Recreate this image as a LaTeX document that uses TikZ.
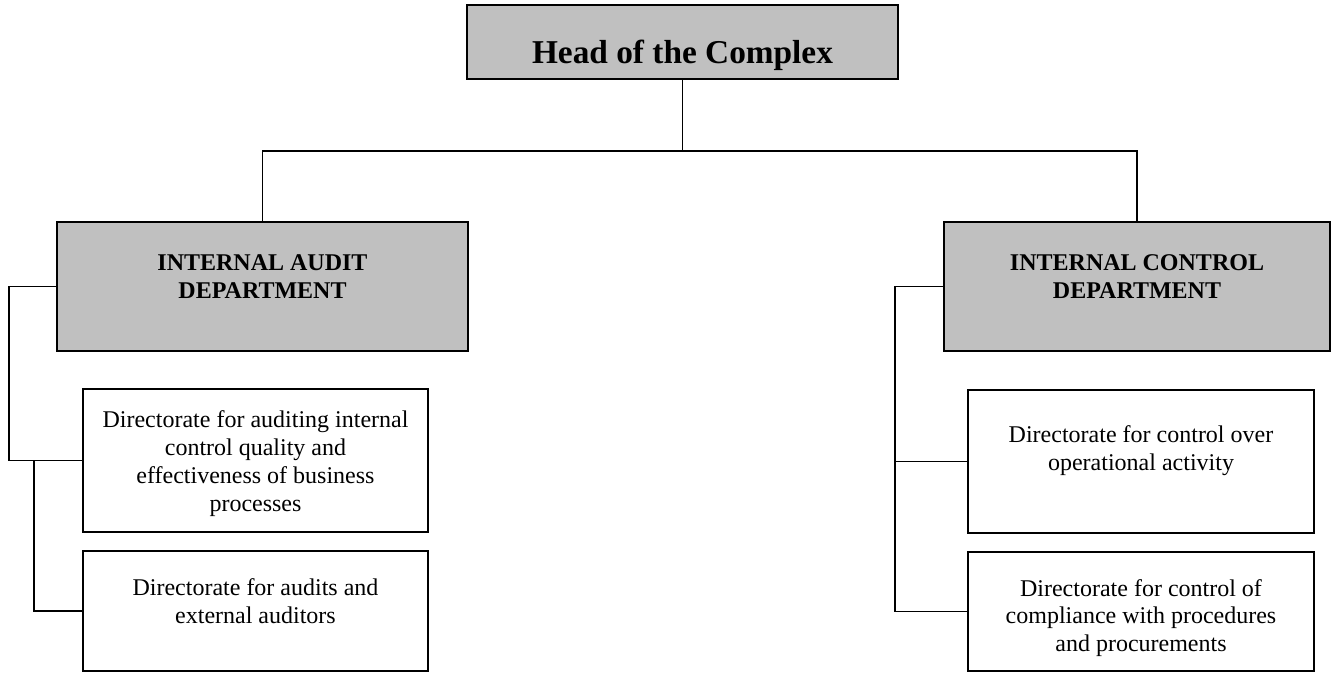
\documentclass[tikz,border=0pt]{standalone}
\usepackage{fontspec}
\setmainfont{Liberation Serif}
\usepackage{tikz}
\definecolor{boxgray}{HTML}{C0C0C0}

\begin{document}
\begin{tikzpicture}[x=0.75pt, y=-0.75pt, line width=1.4pt,
  orgbox/.style = {shape=rectangle, draw, inner sep=0pt},
  graybox/.style = {orgbox, fill=boxgray},
  headtext/.style = {anchor=base, inner sep=0pt, font=\fontsize{25}{30}\selectfont\bfseries},
  depttext/.style = {anchor=base, inner sep=0pt, align=center, font=\fontsize{18}{21}\selectfont\bfseries},
  subtext/.style = {anchor=base, inner sep=0pt, align=center, font=\fontsize{18}{20.8}\selectfont}]
  \useasboundingbox (0,0) rectangle (1335,672);

  % boxes
  \node[graybox, minimum width=323.25pt, minimum height=55.5pt] (head) at (682.5,42) {};
  \node[graybox, minimum width=308.25pt, minimum height=96.75pt] (audit) at (262.5,286.5) {};
  \node[graybox, minimum width=289.5pt, minimum height=96.75pt] (control) at (1137,286.5) {};
  \node[orgbox, minimum width=258.75pt, minimum height=107.25pt] (audit1) at (255.5,460.5) {};
  \node[orgbox, minimum width=258.75pt, minimum height=90pt] (audit2) at (255.5,611) {};
  \node[orgbox, minimum width=259.5pt, minimum height=107.25pt] (control1) at (1141,461.5) {};
  \node[orgbox, minimum width=259.5pt, minimum height=89.25pt] (control2) at (1141,611.5) {};

  % texts (placed at the baseline of their last line)
  \node[headtext] (head-text) at (682.5,63) {Head of the Complex};
  \node[depttext] (audit-text) at (262.5,298) {INTERNAL AUDIT\\DEPARTMENT};
  \node[depttext] (control-text) at (1137,298) {INTERNAL CONTROL\\DEPARTMENT};
  \node[subtext] (audit1-text) at (255.5,511) {Directorate for auditing internal\\control quality and\\effectiveness of business\\processes};
  \node[subtext] (audit2-text) at (255.5,623.7) {Directorate for audits and\\external auditors};
  \node[subtext] (control1-text) at (1141,470.7) {Directorate for control over\\operational activity};
  \node[subtext] (control2-text) at (1141,651.5) {Directorate for control of\\compliance with procedures\\and procurements};

  % connectors
  \coordinate (bus) at (682.5,150.7);
  \draw (head.south) -- (bus);
  \draw (audit.north) |- (bus) -| (control.north);
  \draw (audit.west) -- ++(-47,0) |- (audit1.west);
  \draw (audit1.west) ++(-48,0) |- (audit2.west);
  \draw (control.west) -- ++(-48,0) |- (control1.west);
  \draw (control1.west) ++(-72,0) |- (control2.west);
\end{tikzpicture}
\end{document}
